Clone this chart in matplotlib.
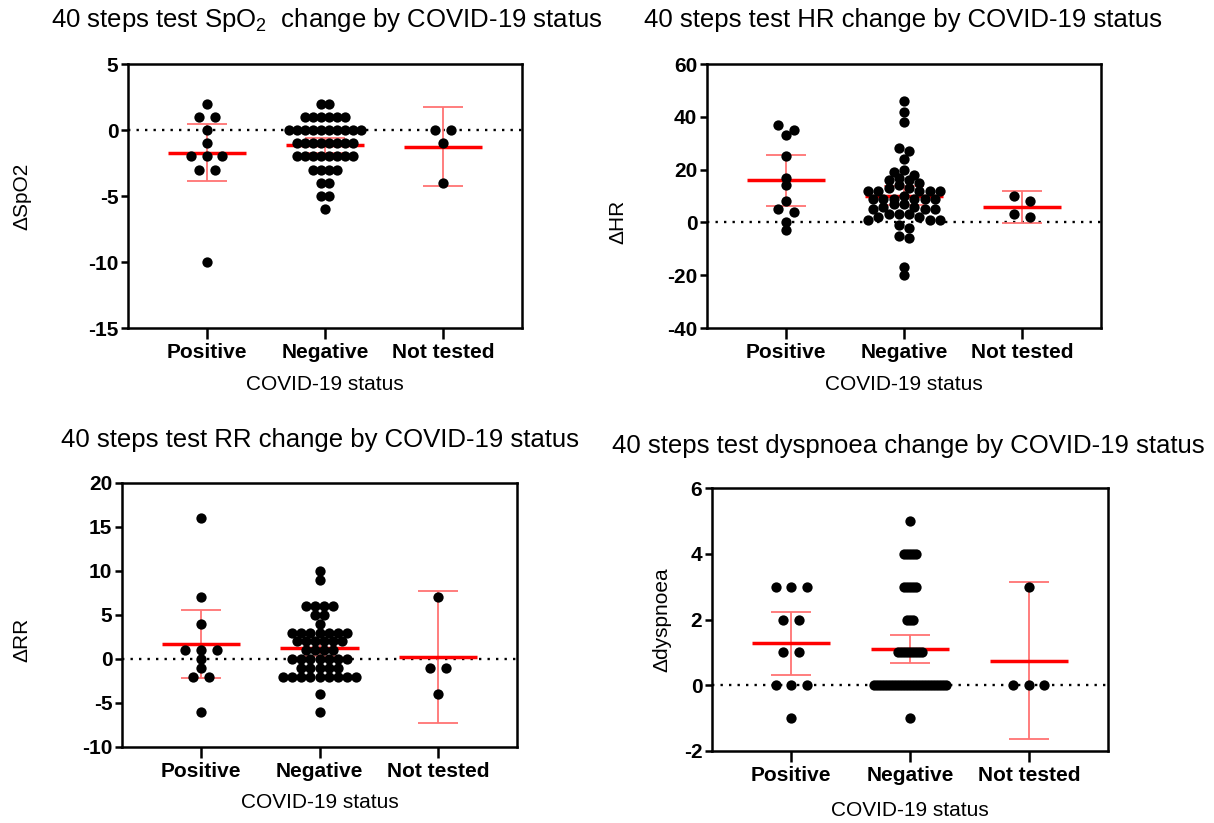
import numpy as np
import matplotlib
matplotlib.use('Agg')
import matplotlib.pyplot as plt

plt.rcParams['font.family'] = ['Liberation Sans', 'DejaVu Sans']
plt.rcParams['mathtext.fontset'] = 'custom'
plt.rcParams['mathtext.rm'] = 'Liberation Sans'
plt.rcParams['mathtext.it'] = 'Liberation Sans:italic'
plt.rcParams['axes.unicode_minus'] = False

groups = ['Positive', 'Negative', 'Not tested']

# change in SpO2 (%)
spo2_pos = [2, 1, 1, 0, -1, -2, -2, -2, -3, -3, -10]
spo2_neg = [2, 2, 1, 1, 1, 1, 1, 1, 0, 0, 0, 0, 0, 0, 0, 0, 0, 0,
            -1, -1, -1, -1, -1, -1, -1, -1, -2, -2, -2, -2, -2, -2, -2, -2,
            -3, -3, -3, -3, -4, -4, -5, -5, -6]
spo2_nt = [0, 0, -1, -4]

# change in heart rate (bpm)
hr_pos = [37, 35, 33, 25, 17, 14, 8, 5, 4, 0, -3]
hr_neg = [46, 42, 38, 28, 27, 24, 20, 19, 18, 17, 16, 16, 15, 14, 13, 13,
          12, 12, 12, 12, 12, 10, 9, 9, 9, 9, 9, 9, 7, 7, 6, 6, 5, 5, 5,
          3, 3, 3, 2, 2, 1, 1, 1, -1, -2, -5, -6, -17, -20]
hr_nt = [10, 8, 3, 2]

# change in respiratory rate (breaths/min)
rr_pos = [16, 7, 4, 1, 1, 1, 0, -1, -2, -2, -6]
rr_neg = [10, 9, 6, 6, 6, 6, 5, 5, 4, 3, 3, 3, 3, 3, 3, 3, 2, 2, 2, 2, 2, 2,
          1, 1, 1, 1, 0, 0, 0, 0, 0, 0, 0, -1, -1, -1, -1, -1,
          -2, -2, -2, -2, -2, -2, -2, -2, -2, -4, -6]
rr_nt = [7, -1, -1, -4]

# change in dyspnoea score
dysp_pos = [3, 3, 3, 2, 2, 1, 1, 0, 0, 0, -1]
dysp_neg = [5, 4, 4, 4, 4, 4, 3, 3, 3, 3, 3, 2, 2, 2,
            1, 1, 1, 1, 1, 1, 1, 1, 1,
            0, 0, 0, 0, 0, 0, 0, 0, 0, 0, 0, 0, 0, 0, 0, 0, 0, 0, 0, 0, 0, 0, 0, 0, 0,
            -1]
dysp_nt = [3, 0, 0, 0]

# two-sided 95% t quantiles by degrees of freedom
T95 = {2: 4.303, 3: 3.182, 10: 2.228, 42: 2.018, 48: 2.011}

W, H, DPI = 1214, 823, 100
DOT_PX = 10.3      # marker diameter
ROW_GAP_PX = 7.6   # points closer than this vertically share a row
ROW_STEP = 0.132
ROW_SPAN = 0.61


def px_box(l, t, r, b):
    return [l / W, 1 - b / H, (r - l) / W, (b - t) / H]


def swarm_rows(ax, vals, center):
    """Group values into rows of overlapping dots and centre each row."""
    vals = np.sort(np.asarray(vals, dtype=float))[::-1]
    ys = ax.transData.transform(np.column_stack([np.zeros(len(vals)), vals]))[:, 1]
    rows = []
    for v, y in zip(vals, ys):
        if rows and abs(y - rows[-1][0][1]) < ROW_GAP_PX:
            rows[-1].append((v, y))
        else:
            rows.append([(v, y)])
    nmax = max(len(r) for r in rows)
    step = ROW_STEP if nmax == 1 else min(ROW_STEP, ROW_SPAN / (nmax - 1))
    xs, yv = [], []
    for r in rows:
        n = len(r)
        offs = (np.arange(n) - (n - 1) / 2) * step
        order = np.argsort(np.abs(offs), kind='stable')
        for k, idx in enumerate(order):
            xs.append(center + offs[idx])
            yv.append(r[k][0])
    return xs, yv


def draw_panel(ax, series, ylim, yticks):
    ax.set_xlim(-0.667, 2.667)
    ax.set_ylim(*ylim)
    ax.axhline(0, color='black', lw=1.7, ls=(0, (1, 2.6)), zorder=1)
    for i, vals in enumerate(series):
        v = np.asarray(vals, dtype=float)
        n = len(v)
        mean = v.mean()
        ci = T95[n - 1] * v.std(ddof=1) / np.sqrt(n)
        ax.vlines(i, mean - ci, mean + ci, color='#ff7373', lw=1.3, zorder=1.5)
        ax.hlines([mean - ci, mean + ci], i - 0.17, i + 0.17, color='#ff7373', lw=1.3, zorder=1.5)
        ax.hlines(mean, i - 0.33, i + 0.33, color='#ff0000', lw=2.5, zorder=1.6)
        xs, ys = swarm_rows(ax, v, i)
        ax.plot(xs, ys, 'o', ms=DOT_PX * 72 / DPI, color='black', mew=0, zorder=2)
    ax.set_xticks(range(len(groups)))
    ax.set_xticklabels(groups, fontsize=15, fontweight='bold')
    ax.set_yticks(yticks)
    ax.set_yticklabels([str(t) for t in yticks], fontsize=15, fontweight='bold')
    ax.tick_params(axis='y', length=5, width=1.8, pad=2)
    ax.tick_params(axis='x', length=8, width=1.8, pad=3)
    for sp in ax.spines.values():
        sp.set_linewidth(1.8)


fig = plt.figure(figsize=(W / DPI, H / DPI), dpi=DPI)

panels = [
    ((128, 64, 522, 328), [spo2_pos, spo2_neg, spo2_nt], (-15, 5), [5, 0, -5, -10, -15],
     r'40 steps test SpO$_2$  change by COVID-19 status', 'ΔSpO2', (327, 20), (22, 196), 385),
    ((707, 64, 1101, 328), [hr_pos, hr_neg, hr_nt], (-40, 60), [60, 40, 20, 0, -20, -40],
     '40 steps test HR change by COVID-19 status', 'ΔHR', (903, 20), (618, 222), 385),
    ((122, 483, 517, 747), [rr_pos, rr_neg, rr_nt], (-10, 20), [20, 15, 10, 5, 0, -5, -10],
     '40 steps test RR change by COVID-19 status', 'ΔRR', (320, 440), (22, 640), 803),
    ((712, 488, 1108, 751), [dysp_pos, dysp_neg, dysp_nt], (-2, 6), [6, 4, 2, 0, -2],
     '40 steps test dyspnoea change by COVID-19 status', 'Δdyspnoea', (908, 446), (662, 620), 810),
]

for box, series, ylim, yticks, title, ylabel, title_xy, ylab_xy, xlab_y in panels:
    ax = fig.add_axes(px_box(*box))
    draw_panel(ax, series, ylim, yticks)
    fig.text(title_xy[0] / W, 1 - title_xy[1] / H, title, fontsize=18.5, ha='center', va='center')
    fig.text(ylab_xy[0] / W, 1 - ylab_xy[1] / H, ylabel, fontsize=15, rotation=90,
             ha='center', va='center')
    fig.text((box[0] + box[2]) / 2 / W, 1 - xlab_y / H, 'COVID-19 status', fontsize=15,
             ha='center', va='center')

fig.savefig('out.png', dpi=DPI)
